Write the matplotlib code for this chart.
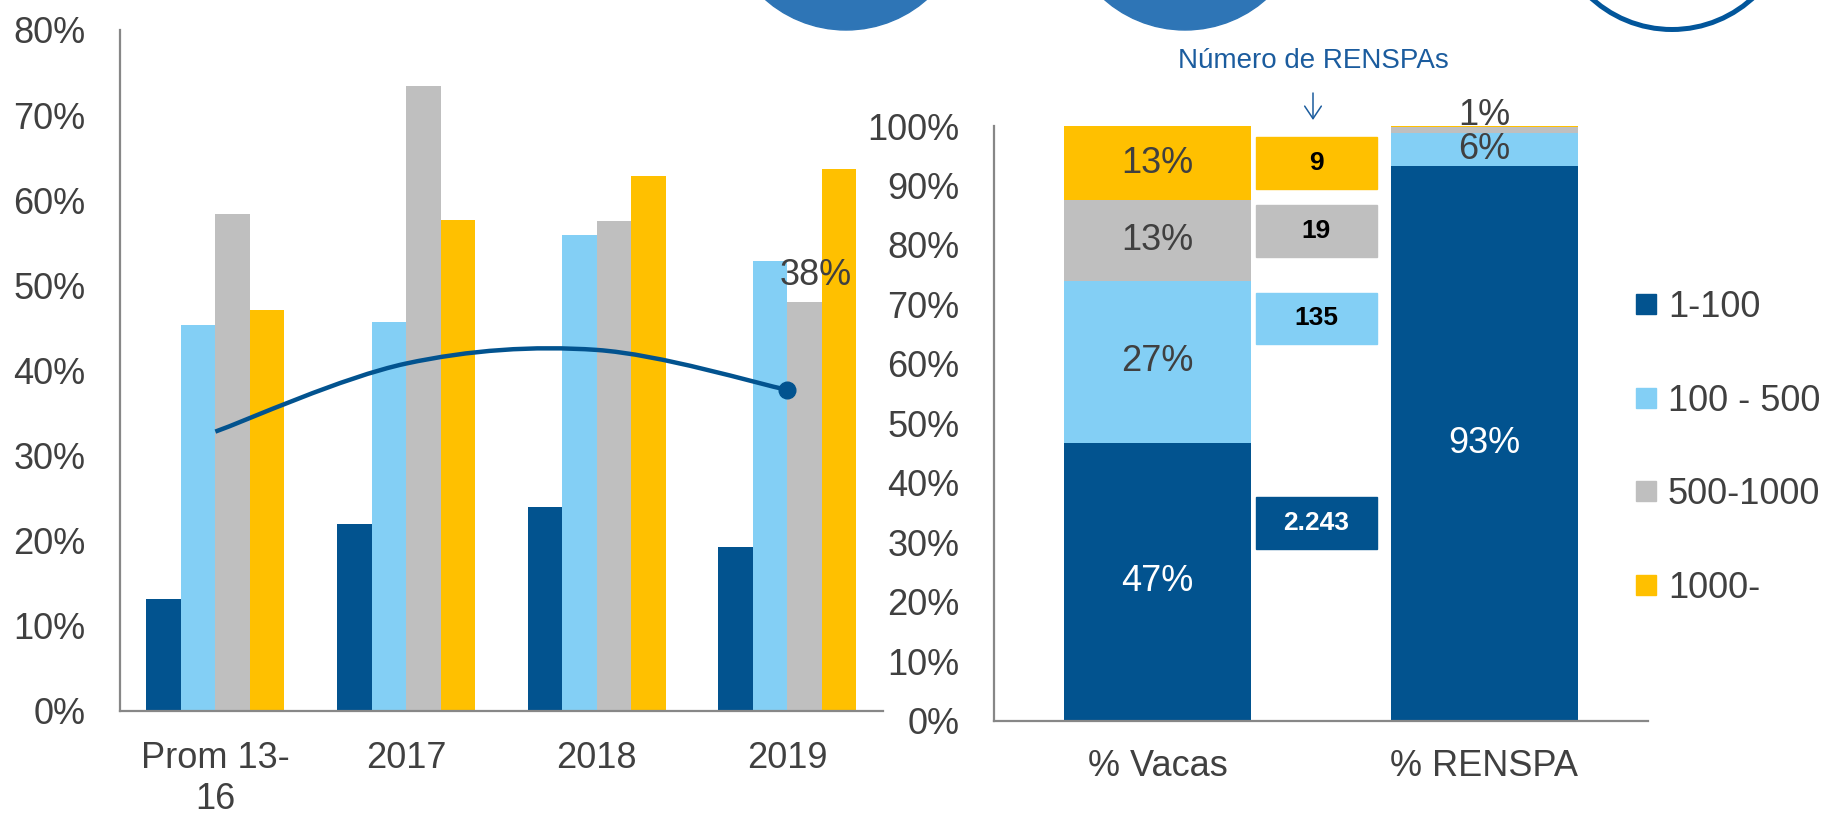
import numpy as np
import matplotlib.pyplot as plt
from matplotlib.patches import Circle, Rectangle, PathPatch
from matplotlib.path import Path
from matplotlib.lines import Line2D

plt.rcParams['font.family'] = ['Liberation Sans', 'DejaVu Sans']

# --- left chart: share per herd size, by year (%)
years = ['Prom 13-\n16', '2017', '2018', '2019']
s_1_100 = [13.1, 22.0, 23.9, 19.2]
s_100_500 = [45.3, 45.7, 55.9, 52.8]
s_500_1000 = [58.4, 73.4, 57.6, 48.0]
s_1000 = [47.1, 57.7, 62.8, 63.7]
trend = [32.8, 40.8, 42.4, 37.7]
trend_label = '38%'

# --- right chart: stacked composition (%)
groups = ['% Vacas', '% RENSPA']
pct_1_100 = [46.7, 93.3]
pct_100_500 = [27.3, 5.6]
pct_500_1000 = [13.5, 0.9]
pct_1000 = [12.5, 0.2]
lab_1_100 = ['47%', '93%']
lab_100_500 = ['27%', '6%']
lab_500_1000 = ['13%', '1%']
lab_1000 = ['13%', '']
renspa_n = ['2.243', '135', '19', '9']
names = ['1-100', '100 - 500', '500-1000', '1000-']

colors = ['#02538F', '#83CFF5', '#BFBFBF', '#FFC000']
txt = '#404040'
axis_col = '#878787'
fs = 26
W, H = 1827, 813

fig = plt.figure(figsize=(W / 100, H / 100), dpi=100)

# ---------------- left chart
ax1 = fig.add_axes([120 / W, 1 - 710.7 / H, 762.8 / W, (710.7 - 30) / H])
x = np.arange(len(years))
w = 0.181
for i, vals in enumerate([s_1_100, s_100_500, s_500_1000, s_1000]):
    ax1.bar(x + (i - 1.5) * w, vals, w, color=colors[i], zorder=2)

# smoothed line (bezier through the points, like excel)
pts = np.column_stack([x, trend])
verts = [tuple(pts[0])]
codes = [Path.MOVETO]
n = len(pts)
for i in range(n - 1):
    p0 = pts[max(i - 1, 0)]
    p1 = pts[i]
    p2 = pts[i + 1]
    p3 = pts[min(i + 2, n - 1)]
    c1 = p1 + (p2 - p0) / 6
    c2 = p2 - (p3 - p1) / 6
    verts += [tuple(c1), tuple(c2), tuple(p2)]
    codes += [Path.CURVE4] * 3
ax1.add_patch(PathPatch(Path(verts, codes), fill=False, ec='#02538F', lw=3.2, zorder=3))
ax1.plot(x[-1], trend[-1], 'o', ms=12, color='#02538F', zorder=4)
ax1.annotate(trend_label, (x[-1], trend[-1]), xytext=(20.5, 82.5), textcoords='offset points',
             ha='center', va='center', fontsize=fs, color=txt, zorder=5)

ax1.set_xlim(-0.5, 3.5)
ax1.set_ylim(0, 80)
ax1.set_yticks(range(0, 81, 10))
ax1.set_yticklabels([f'{v}%' for v in range(0, 81, 10)])
ax1.set_xticks(x)
ax1.set_xticklabels(years)
for lbl in ax1.get_xticklabels():
    lbl.set_linespacing(1.22)
ax1.tick_params(axis='both', length=0, labelsize=fs, labelcolor=txt)
ax1.tick_params(axis='y', pad=25)
ax1.tick_params(axis='x', pad=21.5)
for s in ['top', 'right']:
    ax1.spines[s].set_visible(False)
for s in ['left', 'bottom']:
    ax1.spines[s].set_color(axis_col)
    ax1.spines[s].set_linewidth(1.6)
ax1.patch.set_alpha(0)

# ---------------- right chart
ax2 = fig.add_axes([994 / W, 1 - 720.7 / H, 654 / W, (720.7 - 126) / H])
xr = np.arange(len(groups))
bw = 0.573
bottom = np.zeros(len(groups))
handles = []
for i, (vals, labs) in enumerate(zip([pct_1_100, pct_100_500, pct_500_1000, pct_1000],
                                      [lab_1_100, lab_100_500, lab_500_1000, lab_1000])):
    ax2.bar(xr, vals, bw, bottom=bottom, color=colors[i], zorder=2)
    for j in range(len(groups)):
        if not labs[j]:
            continue
        if vals[j] < 3:
            ypos = 101.8
        else:
            ypos = bottom[j] + vals[j] / 2
        ax2.text(xr[j], ypos, labs[j], ha='center', va='center', fontsize=fs,
                 color='white' if i == 0 else txt, zorder=5)
    bottom = bottom + np.array(vals)
    handles.append(Line2D([], [], marker='s', ls='none', ms=13.7, color=colors[i]))

# boxes with number of RENSPAs
box_x = 0.486
box_w = 0.37
box_bottoms = [28.9, 63.3, 78.0, 89.4]
box_h = 8.7
for i, (b, t) in enumerate(zip(box_bottoms, renspa_n)):
    ax2.add_patch(Rectangle((box_x - box_w / 2, b), box_w, box_h, color=colors[i], zorder=2, clip_on=False))
    ax2.text(box_x, b + box_h / 2, t, ha='center', va='center', fontsize=19, fontweight='bold',
             color='white' if i == 0 else 'black', zorder=5)

ax2.set_xlim(-0.5, 1.5)
ax2.set_ylim(0, 100)
ax2.set_yticks(range(0, 101, 10))
ax2.set_yticklabels([f'{v}%' for v in range(0, 101, 10)])
ax2.set_xticks(xr)
ax2.set_xticklabels(groups)
ax2.tick_params(axis='both', length=0, labelsize=fs, labelcolor=txt)
ax2.tick_params(axis='y', pad=25)
ax2.tick_params(axis='x', pad=20.5)
for s in ['top', 'right']:
    ax2.spines[s].set_visible(False)
for s in ['left', 'bottom']:
    ax2.spines[s].set_color(axis_col)
    ax2.spines[s].set_linewidth(1.6)
ax2.patch.set_alpha(0)

fig.legend(handles, names, loc='upper left', bbox_to_anchor=(1636 / W, 1 - 290 / H),
           frameon=False, fontsize=fs, labelcolor=txt, handlelength=0.58, handletextpad=0.3,
           labelspacing=1.62, borderpad=0, borderaxespad=0)

# ---------------- decorations on top (circles, title, arrow)
axo = fig.add_axes([0, 0, 1, 1])
axo.set_xlim(0, W)
axo.set_ylim(H, 0)
axo.axis('off')
axo.add_patch(Circle((846, -92), 122, color='#2E75B6'))
axo.add_patch(Circle((1185, -92), 122, color='#2E75B6'))
axo.add_patch(Circle((1672, -90), 119.5, fill=False, ec='#02569B', lw=3.6))
axo.text(1313, 68, 'Número de RENSPAs', ha='center', va='baseline', fontsize=20, color='#1B5C9E')
axo.annotate('', xy=(1313, 120), xytext=(1313, 93),
             arrowprops=dict(arrowstyle='->,head_length=0.9,head_width=0.6', color='#1B5C9E',
                             lw=1.1, shrinkA=0, shrinkB=0))

fig.savefig('out.png', dpi=100)
